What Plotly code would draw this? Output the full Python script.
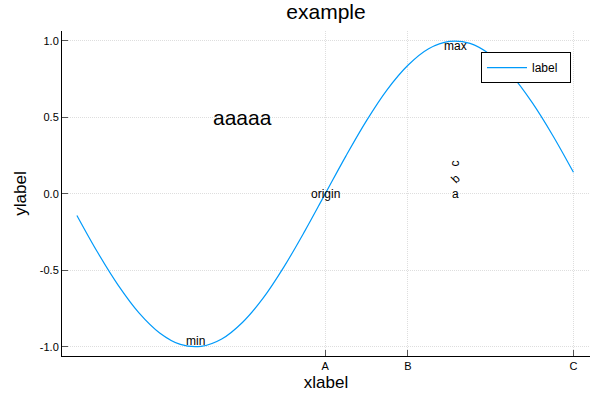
import plotly.graph_objects as go

x_vals = [-3, -2.75, -2.5, -2.25, -2, -1.75, -1.5, -1.25, -1, -0.75, -0.5, -0.25, 0,
          0.25, 0.5, 0.75, 1, 1.25, 1.5, 1.75, 2, 2.25, 2.5, 2.75, 3]
y_vals = [-0.141, -0.382, -0.598, -0.778, -0.909, -0.984, -0.997, -0.949, -0.841, -0.682,
          -0.479, -0.247, 0.0, 0.247, 0.479, 0.682, 0.841, 0.949, 0.997, 0.984, 0.909,
          0.778, 0.598, 0.382, 0.141]

x_tick_vals = [0, 1, 3]
x_tick_text = ["A", "B", "C"]
y_tick_vals = [-1.0, -0.5, 0.0, 0.5, 1.0]
y_tick_text = ["-1.0", "-0.5", "0.0", "0.5", "1.0"]

ann_text = ["min", "origin", "max", "aaaaa", "a", "b", "c"]
ann_x = [-1.571, 0, 1.571, -1.0, 1.571, 1.571, 1.571]
ann_y = [-0.96, 0.0, 0.97, 0.5, 0.0, 0.1, 0.2]
ann_size = [12, 12, 12, 21, 12, 12, 12]
ann_angle = [0, 0, 0, 0, 0, -45, -90]

FONT = "Liberation Sans, Arial, sans-serif"
color = "#009AFA"

fig = go.Figure()
fig.add_trace(go.Scatter(x=x_vals, y=y_vals, mode="lines", name="label&nbsp;&nbsp;",
                         line=dict(color=color, width=1.2, shape="spline")))

for t, ax_, ay_, s, a in zip(ann_text, ann_x, ann_y, ann_size, ann_angle):
    fig.add_annotation(x=ax_, y=ay_, text=t, showarrow=False, textangle=a,
                       font=dict(size=s, color="black", family=FONT))

axis_common = dict(showline=True, linecolor="black", linewidth=1, ticks="inside",
                   ticklen=6, tickcolor="#555555", showgrid=True,
                   gridcolor="rgba(0,0,0,0.13)", griddash="1px,1px", gridwidth=1,
                   zeroline=False, mirror=False, automargin=False,
                   tickfont=dict(size=11, color="black", family=FONT))

fig.update_layout(
    width=600, height=400,
    paper_bgcolor="white", plot_bgcolor="white",
    margin=dict(l=62, r=10, t=31, b=44, autoexpand=False),
    font=dict(family=FONT, color="black"),
    title=dict(text="example", x=0.5, xref="paper", y=0.97, yref="container",
               yanchor="middle", automargin=False,
               font=dict(size=21, family=FONT, color="black")),
    xaxis=dict(range=[-3.18, 3.2], tickmode="array", tickvals=x_tick_vals,
               ticktext=x_tick_text,
               title=dict(text="xlabel", font=dict(size=17, family=FONT), standoff=4),
               **axis_common),
    yaxis=dict(range=[-1.06, 1.065], tickmode="array", tickvals=y_tick_vals,
               ticktext=y_tick_text,
               title=dict(text="ylabel", font=dict(size=17, family=FONT), standoff=8),
               **axis_common),
    showlegend=True,
    legend=dict(x=0.964, y=0.935, xanchor="right", yanchor="top",
                bgcolor="white", bordercolor="black", borderwidth=1, itemwidth=40,
                font=dict(size=12, family=FONT, color="black")),
)

fig.write_html("out.html", config={"displayModeBar": False},
               post_script="document.body.style.margin='0';")
